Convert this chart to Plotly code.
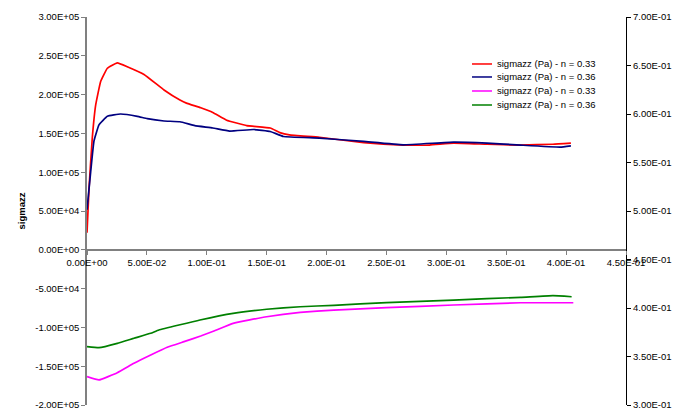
import plotly.graph_objects as go

# --- data ---
red_x = [0, 0.0017, 0.0044, 0.0073, 0.0114, 0.017, 0.0253, 0.0336, 0.0476, 0.0643,
         0.0776, 0.083, 0.095, 0.105, 0.1166, 0.1333, 0.153, 0.161, 0.169, 0.194, 0.231, 0.264,
         0.286, 0.306, 0.334, 0.362, 0.389, 0.404]
red_y = [2.2e4, 7.95e4, 1.44e5, 1.87e5, 2.17e5, 2.34e5, 2.41e5, 2.36e5, 2.26e5, 2.06e5,
         1.93e5, 1.89e5, 1.83e5, 1.77e5, 1.67e5, 1.60e5, 1.57e5, 1.51e5, 1.48e5, 1.45e5, 1.38e5, 1.35e5,
         1.35e5, 1.375e5, 1.36e5, 1.35e5, 1.36e5, 1.375e5]

blue_x = [0, 0.0031, 0.0058, 0.010, 0.017, 0.028, 0.042, 0.0503, 0.0643, 0.0776, 0.09, 0.105, 0.119,
          0.139, 0.153, 0.164, 0.194, 0.231, 0.264, 0.306, 0.334, 0.362, 0.395, 0.404]
blue_y = [5.15e4, 1.01e5, 1.40e5, 1.61e5, 1.72e5, 1.75e5, 1.72e5, 1.69e5, 1.66e5, 1.65e5, 1.60e5, 1.57e5, 1.53e5,
          1.55e5, 1.525e5, 1.46e5, 1.44e5, 1.396e5, 1.353e5, 1.388e5, 1.375e5, 1.349e5, 1.323e5, 1.34e5]

mag_x = [0, 0.010, 0.0253, 0.0392, 0.0532, 0.067, 0.081, 0.0949, 0.106, 0.122, 0.150, 0.178, 0.206,
         0.25, 0.306, 0.362, 0.406]
mag_y = [0.3292, 0.3258, 0.3333, 0.3430, 0.3515, 0.3595, 0.3653, 0.3711, 0.3763, 0.3842, 0.3910, 0.3955,
         0.3979, 0.4003, 0.4031, 0.4054, 0.4054]

grn_x = [0, 0.010, 0.0253, 0.0392, 0.0532, 0.060, 0.0943, 0.122, 0.150, 0.178, 0.206, 0.25, 0.306,
         0.362, 0.389, 0.4046]
grn_y = [0.3601, 0.3591, 0.3636, 0.3688, 0.3739, 0.3773, 0.3876, 0.3945, 0.3987, 0.4013, 0.4028, 0.4055,
         0.4082, 0.411, 0.4127, 0.4116]

names = ["sigmazz (Pa) - n = 0.33", "sigmazz (Pa) - n = 0.36",
         "sigmazz (Pa) - n = 0.33", "sigmazz (Pa) - n = 0.36"]
colors = ["#FF0000", "#000080", "#FF00FF", "#008000"]

x_ticks = [0, 0.05, 0.1, 0.15, 0.2, 0.25, 0.3, 0.35, 0.4, 0.45]
x_labels = ["0.00E+00", "5.00E-02", "1.00E-01", "1.50E-01", "2.00E-01", "2.50E-01",
            "3.00E-01", "3.50E-01", "4.00E-01", "4.50E-01"]
y_ticks = [-2e5, -1.5e5, -1e5, -5e4, 0, 5e4, 1e5, 1.5e5, 2e5, 2.5e5, 3e5]
y_labels = ["-2.00E+05", "-1.50E+05", "-1.00E+05", "-5.00E+04", "0.00E+00", "5.00E+04",
            "1.00E+05", "1.50E+05", "2.00E+05", "2.50E+05", "3.00E+05"]
y2_ticks = [0.3, 0.35, 0.4, 0.45, 0.5, 0.55, 0.6, 0.65, 0.7]
y2_labels = ["3.00E-01", "3.50E-01", "4.00E-01", "4.50E-01", "5.00E-01", "5.50E-01",
             "6.00E-01", "6.50E-01", "7.00E-01"]

FONT = "Liberation Sans, Arial, sans-serif"

fig = go.Figure()
series = [(red_x, red_y, "y"), (blue_x, blue_y, "y"), (mag_x, mag_y, "y2"), (grn_x, grn_y, "y2")]
for (xs, ys, ax), nm, col in zip(series, names, colors):
    fig.add_trace(go.Scatter(x=xs, y=ys, name=nm, mode="lines", yaxis=ax,
                             line=dict(color=col, width=1.7, shape="spline", smoothing=0.3)))

fig.update_layout(
    width=683, height=412,
    margin=dict(l=79, r=65, t=9, b=15),
    paper_bgcolor="white", plot_bgcolor="white",
    font=dict(family=FONT, size=9.5, color="#000000"),
    showlegend=False,
    xaxis=dict(range=[0, 0.45], tickvals=x_ticks, ticktext=x_labels, anchor="free", position=0.4,
               showline=True, linecolor="#808080", linewidth=1.5, ticks="outside", ticklen=4,
               tickcolor="#808080", showgrid=False, zeroline=False, automargin=False),
    yaxis=dict(range=[-2e5, 3e5], tickvals=y_ticks, ticktext=y_labels,
               showline=True, linecolor="#808080", linewidth=1.5, ticks="outside", ticklen=4,
               tickcolor="#808080", showgrid=False, zeroline=False, automargin=False,
               title=dict(text="<b>sigmazz</b>", font=dict(size=9.5), standoff=8)),
    yaxis2=dict(range=[0.3, 0.7], tickvals=y2_ticks, ticktext=y2_labels, overlaying="y", side="right",
                showline=True, linecolor="#000000", linewidth=1.2, ticks="outside", ticklen=4,
                tickcolor="#000000", showgrid=False, zeroline=False, automargin=False),
)

# custom compact legend (Excel-style spacing)
leg_y = [0.8789, 0.8454, 0.8093, 0.7732]
for nm, col, yy in zip(names, colors, leg_y):
    fig.add_shape(type="line", xref="paper", yref="paper", x0=0.7143, x1=0.7514, y0=yy, y1=yy,
                  line=dict(color=col, width=1.5))
    fig.add_annotation(text=nm, xref="paper", yref="paper", x=0.757, y=yy, xanchor="left",
                       yanchor="middle", showarrow=False, font=dict(size=9.5))

fig.add_annotation(text="<b>porom</b>", xref="paper", yref="paper", x=1.1, y=0.505,
                   textangle=-90, showarrow=False, font=dict(size=9.5), xanchor="center", yanchor="middle")

fig.write_html("out.html")
